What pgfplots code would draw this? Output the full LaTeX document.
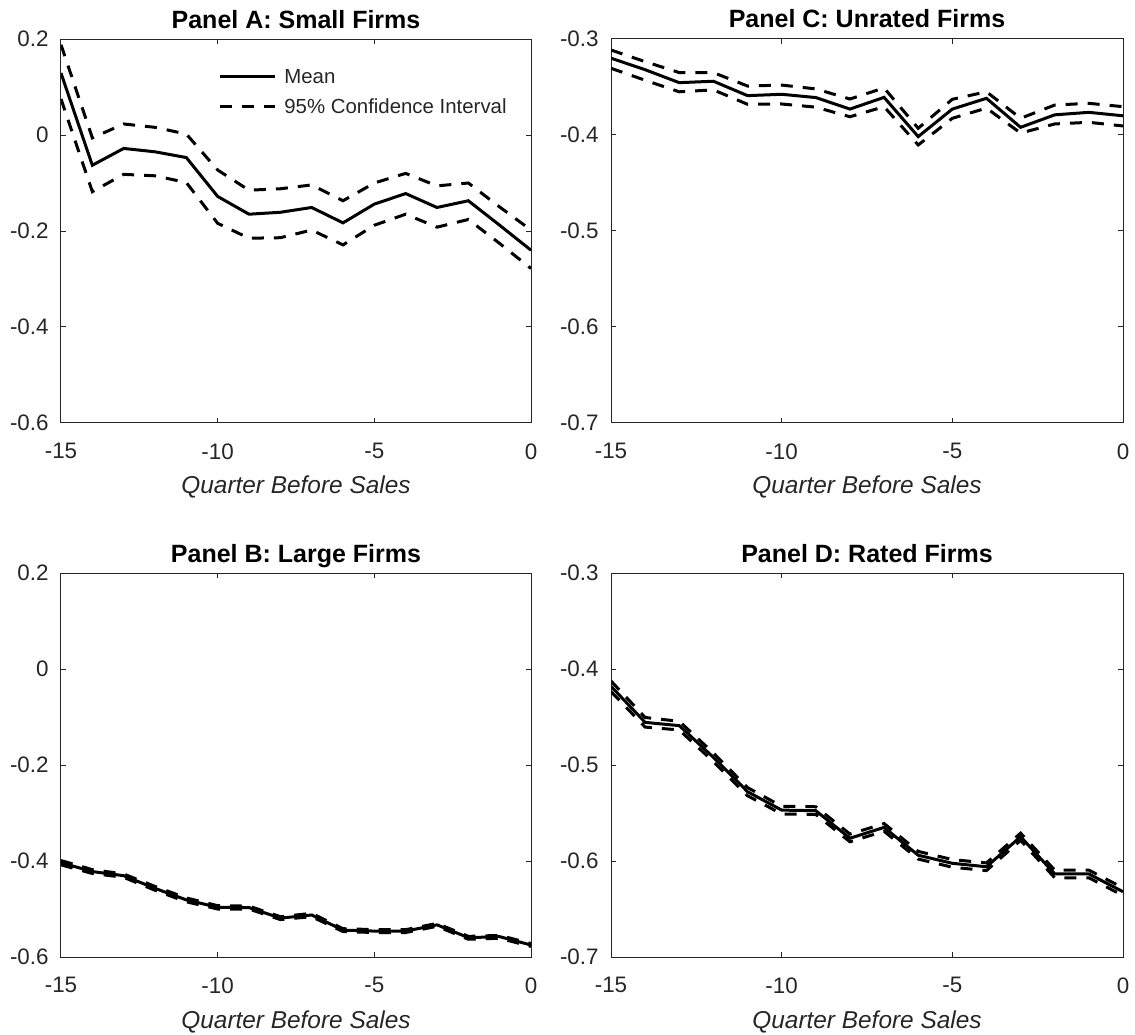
\documentclass[border=0pt]{standalone}
\usepackage{fontspec}
\setmainfont{Liberation Sans}
\usepackage{pgfplots}
\usepackage{pgfplotstable}
\pgfplotsset{compat=1.18}

\definecolor{axgray}{gray}{0.15}

% quarter, mean, upper and lower 95% bounds
\pgfplotstableread{
q    mean     up       lo
-15  0.129    0.188    0.075
-14 -0.063   -0.006   -0.118
-13 -0.028    0.023   -0.082
-12 -0.035    0.016   -0.085
-11 -0.047    0.002   -0.099
-10 -0.128   -0.073   -0.184
-9  -0.165   -0.115   -0.215
-8  -0.161   -0.112   -0.214
-7  -0.151   -0.104   -0.198
-6  -0.183   -0.137   -0.229
-5  -0.144   -0.100   -0.188
-4  -0.122   -0.080   -0.165
-3  -0.151   -0.106   -0.192
-2  -0.137   -0.100   -0.176
-1  -0.188   -0.150   -0.226
0   -0.240   -0.198   -0.278
}\smallfirms

\pgfplotstableread{
q    mean     up       lo
-15 -0.4035  -0.399   -0.408
-14 -0.422   -0.418   -0.426
-13 -0.4306  -0.427   -0.434
-12 -0.457   -0.453   -0.461
-11 -0.481   -0.477   -0.485
-10 -0.4965  -0.493   -0.500
-9  -0.497   -0.494   -0.500
-8  -0.519   -0.516   -0.522
-7  -0.5125  -0.509   -0.516
-6  -0.544   -0.541   -0.547
-5  -0.546   -0.543   -0.549
-4  -0.546   -0.543   -0.549
-3  -0.533   -0.530   -0.536
-2  -0.5597  -0.557   -0.563
-1  -0.5576  -0.555   -0.561
0   -0.575   -0.572   -0.578
}\largefirms

\pgfplotstableread{
q    mean     up       lo
-15 -0.320   -0.3115  -0.3305
-14 -0.332   -0.3236  -0.343
-13 -0.3455  -0.335   -0.355
-12 -0.344   -0.335   -0.353
-11 -0.359   -0.349   -0.368
-10 -0.3576  -0.348   -0.3677
-9  -0.361   -0.352   -0.371
-8  -0.373   -0.3625  -0.381
-7  -0.3608  -0.351   -0.3705
-6  -0.4017  -0.393   -0.4104
-5  -0.373   -0.3628  -0.3826
-4  -0.3618  -0.355   -0.372
-3  -0.392   -0.3826  -0.398
-2  -0.379   -0.3688  -0.3885
-1  -0.3764  -0.367   -0.3868
0   -0.380   -0.3705  -0.3906
}\unratedfirms

\pgfplotstableread{
q    mean     up       lo
-15 -0.418   -0.4125  -0.4235
-14 -0.4556  -0.4505  -0.4605
-13 -0.459   -0.4545  -0.4635
-12 -0.492   -0.4875  -0.4965
-11 -0.5278  -0.5235  -0.532
-10 -0.547   -0.543   -0.551
-9  -0.5476  -0.5435  -0.5515
-8  -0.5763  -0.572   -0.580
-7  -0.565   -0.561   -0.569
-6  -0.594   -0.590   -0.598
-5  -0.6024  -0.5985  -0.6065
-4  -0.606   -0.602   -0.610
-3  -0.5747  -0.571   -0.5785
-2  -0.6135  -0.6095  -0.6175
-1  -0.6135  -0.6095  -0.6175
0   -0.632   -0.628   -0.636
}\ratedfirms

\pgfplotsset{
  panel/.style={
    scale only axis, height=192pt,
    xmin=-15, xmax=0,
    xtick={-15,-10,-5,0}, xticklabels={-15,-10,-5,0},
    axis line style={axgray, line width=0.5pt},
    every tick/.style={axgray, line width=0.5pt},
    tick align=inside, major tick length=2.5pt,
    ticklabel style={font=\fontsize{11.2}{13}\selectfont, text=axgray},
    xticklabel style={anchor=north, inner sep=0pt, yshift=-10pt},
    yticklabel style={anchor=east, inner sep=0pt, xshift=-6pt},
    title style={font=\bfseries\fontsize{12.5}{14}\selectfont, anchor=base,
      at={(0.5,1)}, yshift=-0.5pt, inner sep=0pt},
    xlabel={Quarter Before Sales},
    xlabel style={font=\itshape\fontsize{12.2}{14}\selectfont, text=axgray,
      anchor=base, at={(0.5,0)}, yshift=-35.5pt, inner sep=0pt},
  },
  leftpanel/.style={panel, width=235pt},
  rightpanel/.style={panel, width=256pt},
  upperscale/.style={ymin=-0.6, ymax=0.2,
    ytick={-0.6,-0.4,-0.2,0,0.2}, yticklabels={-0.6,-0.4,-0.2,0,0.2}},
  lowerscale/.style={ymin=-0.7, ymax=-0.3,
    ytick={-0.7,-0.6,-0.5,-0.4,-0.3}, yticklabels={-0.7,-0.6,-0.5,-0.4,-0.3}},
  meanline/.style={black, line width=1.5pt},
  ciline/.style={black, line width=1.5pt, dash pattern=on 6pt off 5pt},
}

\begin{document}
\begin{tikzpicture}
\useasboundingbox (0,0) rectangle (567.5pt,517pt);

% Panel A
\begin{axis}[leftpanel, upperscale, at={(30.5pt,305.5pt)}, anchor=south west,
  title={Panel A: Small Firms},
  legend style={draw=none, fill=none, inner sep=0pt, at={(0.334,0.925)}, anchor=north west,
    font=\fontsize{10.2}{12}\selectfont, text=axgray,
    nodes={inner sep=0pt, text height=7.5pt, text depth=2.5pt},
    row sep=5pt, column sep=4pt},
  legend cell align=left,
  legend image code/.code={\draw[#1] (0pt,0.7pt) -- (27.5pt,0.7pt);},
]
\addplot[meanline] table[x=q, y=mean] {\smallfirms};
\addlegendentry{Mean}
\addplot[ciline] table[x=q, y=up] {\smallfirms};
\addlegendentry{95\% Confidence Interval}
\addplot[ciline, forget plot] table[x=q, y=lo] {\smallfirms};
\end{axis}

% Panel C
\begin{axis}[rightpanel, lowerscale, at={(305.5pt,305.5pt)}, anchor=south west,
  title={Panel C: Unrated Firms}]
\addplot[meanline] table[x=q, y=mean] {\unratedfirms};
\addplot[ciline] table[x=q, y=up] {\unratedfirms};
\addplot[ciline] table[x=q, y=lo] {\unratedfirms};
\end{axis}

% Panel B
\begin{axis}[leftpanel, upperscale, at={(30.5pt,38.5pt)}, anchor=south west,
  title={Panel B: Large Firms}]
\addplot[meanline] table[x=q, y=mean] {\largefirms};
\addplot[ciline] table[x=q, y=up] {\largefirms};
\addplot[ciline] table[x=q, y=lo] {\largefirms};
\end{axis}

% Panel D
\begin{axis}[rightpanel, lowerscale, at={(305.5pt,38.5pt)}, anchor=south west,
  title={Panel D: Rated Firms}]
\addplot[meanline] table[x=q, y=mean] {\ratedfirms};
\addplot[ciline] table[x=q, y=up] {\ratedfirms};
\addplot[ciline] table[x=q, y=lo] {\ratedfirms};
\end{axis}
\end{tikzpicture}
\end{document}
